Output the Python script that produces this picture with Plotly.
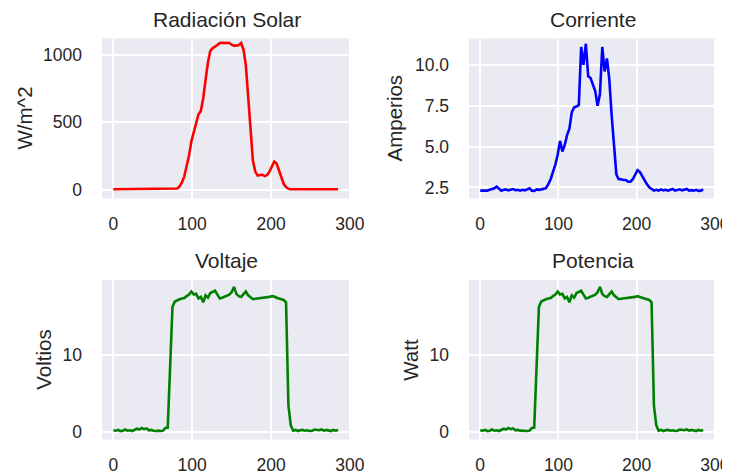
import plotly.graph_objects as go

# ---------------- data (sample index, every 3rd sample) ----------------
muestra = list(range(0, 288, 3))

radiacion = [
    5, 5, 5, 5, 5, 5, 5, 5, 5, 5, 5, 5, 5, 5, 5, 5, 5, 5, 5, 5, 5, 5, 5, 5, 5, 5, 5,
    10, 25, 55, 100, 170, 255, 360, 430, 500, 560, 585, 680, 815, 945, 1030,
    1050, 1060, 1075, 1088, 1090, 1090, 1090, 1088, 1075, 1068, 1068, 1072, 1088,
    1040, 925, 690, 420, 215, 135, 106, 110, 112, 102, 110, 135, 175, 210, 195,
    140, 85, 45, 20, 8,
    5, 5, 5, 5, 5, 5, 5, 5, 5, 5, 5, 5, 5, 5, 5, 5, 5, 5, 5, 5, 5,
]

corriente = [
    2.3, 2.3, 2.32, 2.3, 2.35, 2.38, 2.45, 2.55, 2.4, 2.3, 2.35, 2.38, 2.32, 2.35,
    2.4, 2.33, 2.35, 2.3, 2.35, 2.32, 2.4, 2.45, 2.3, 2.28, 2.38, 2.35, 2.38, 2.4, 2.45,
    2.7, 3.0, 3.45, 3.9, 4.5, 5.35, 4.7, 5.1, 5.7, 6.1, 7.1, 7.4, 7.45, 7.55, 11.1,
    10.0, 11.3, 9.3, 9.2, 8.8, 8.4, 7.5, 8.2, 11.1, 9.6, 10.4, 9.1, 6.9, 4.8, 3.3,
    3.0, 3.0, 2.95, 2.95, 2.85, 2.85, 3.0, 3.3, 3.55, 3.45, 3.15, 2.95, 2.7, 2.5, 2.4,
    2.3, 2.35, 2.3, 2.38, 2.32, 2.35, 2.3, 2.35, 2.4, 2.3, 2.35, 2.38, 2.32, 2.35,
    2.4, 2.3, 2.33, 2.3, 2.35, 2.28, 2.3, 2.38,
]

voltaje = [
    0.25, 0.2, 0.3, 0.15, 0.2, 0.35, 0.2, 0.25, 0.15, 0.3, 0.45, 0.35, 0.55, 0.4,
    0.5, 0.25, 0.3, 0.2, 0.15, 0.2, 0.15, 0.2, 0.55, 0.6,
    9.5, 16.3, 17.0, 17.2, 17.3, 17.4, 17.45, 17.7, 17.9, 18.3, 17.9, 18.0, 17.4,
    17.6, 16.9, 17.8, 17.5, 18.1, 18.2, 18.4, 17.9, 17.4, 17.5, 17.6, 17.8, 17.9,
    18.2, 18.9, 18.0, 17.7, 17.6, 17.9, 18.3, 17.8, 17.5, 17.3, 17.35, 17.4, 17.4,
    17.45, 17.5, 17.5, 17.6, 17.7, 17.65, 17.5, 17.4, 17.3, 17.2, 16.9,
    3.5, 0.9, 0.2, 0.3, 0.15, 0.25, 0.3, 0.2, 0.25, 0.15, 0.2, 0.35, 0.3, 0.25,
    0.35, 0.2, 0.3, 0.25, 0.15, 0.3, 0.2, 0.3,
]

# the "Potencia" panel shows the same curve as "Voltaje"
potencia = [
    0.25, 0.2, 0.3, 0.15, 0.2, 0.35, 0.2, 0.25, 0.15, 0.3, 0.45, 0.35, 0.55, 0.4,
    0.5, 0.25, 0.3, 0.2, 0.15, 0.2, 0.15, 0.2, 0.55, 0.6,
    9.5, 16.3, 17.0, 17.2, 17.3, 17.4, 17.45, 17.7, 17.9, 18.3, 17.9, 18.0, 17.4,
    17.6, 16.9, 17.8, 17.5, 18.1, 18.2, 18.4, 17.9, 17.4, 17.5, 17.6, 17.8, 17.9,
    18.2, 18.9, 18.0, 17.7, 17.6, 17.9, 18.3, 17.8, 17.5, 17.3, 17.35, 17.4, 17.4,
    17.45, 17.5, 17.5, 17.6, 17.7, 17.65, 17.5, 17.4, 17.3, 17.2, 16.9,
    3.5, 0.9, 0.2, 0.3, 0.15, 0.25, 0.3, 0.2, 0.25, 0.15, 0.2, 0.35, 0.3, 0.25,
    0.35, 0.2, 0.3, 0.25, 0.15, 0.3, 0.2, 0.3,
]

titulos = ["Radiación Solar", "Corriente", "Voltaje", "Potencia"]
etiquetas_y = ["W/m^2", "Amperios", "Voltios", "Watt"]
x_ticks = [0, 100, 200, 300]
y_ticks = [[0, 500, 1000], [2.5, 5.0, 7.5, 10.0], [0, 10], [0, 10]]
colores = ["red", "blue", "green", "green"]
series = [radiacion, corriente, voltaje, potencia]

# ---------------- layout ----------------
# the page body adds an 8px offset, so the figure is 8px smaller
OFF = 8
W, H = 730 - OFF, 475 - OFF
FONT = "Arial, 'Liberation Sans', sans-serif"
TXT = "#262626"


def fx(px):
    return (px - OFF) / W


def fy(py):
    return 1 - (py - OFF) / H


xL = [fx(102), fx(351)]
xR = [fx(469), fx(716)]
yT = [fy(198.5), fy(38.5)]
yB = [fy(439.5), fy(280)]
dominios = [(xL, yT), (xR, yT), (xL, yB), (xR, yB)]
y_rangos = [[-64, 1121], [1.82, 11.62], [-0.95, 19.8], [-0.95, 19.8]]
label_x_px = [24, 394, 44, 411]

fig = go.Figure()
layout = dict(
    width=W, height=H, autosize=False,
    margin=dict(l=0, r=0, t=0, b=0, pad=0, autoexpand=False),
    paper_bgcolor="white", plot_bgcolor="#EAEAF2",
    font=dict(family=FONT, color=TXT),
    showlegend=False,
    annotations=[],
)

for i in range(4):
    n = "" if i == 0 else str(i + 1)
    fig.add_trace(go.Scatter(
        x=muestra, y=series[i], mode="lines",
        line=dict(color=colores[i], width=2.6),
        xaxis="x" + n, yaxis="y" + n, hoverinfo="skip",
    ))
    xd, yd = dominios[i]
    layout["xaxis" + n] = dict(
        domain=xd, anchor="y" + n, range=[-14.35, 301.35], automargin=False,
        tickvals=x_ticks, showgrid=True, gridcolor="white", gridwidth=1.5,
        zeroline=False, showline=False, ticks="",
        ticklabelstandoff=13,
        tickfont=dict(size=17.5, color=TXT, family=FONT),
    )
    layout["yaxis" + n] = dict(
        domain=yd, anchor="x" + n, range=y_rangos[i], automargin=False,
        tickvals=y_ticks[i], tickformat=".1f" if i == 1 else "d",
        showgrid=True, gridcolor="white", gridwidth=1.5,
        zeroline=False, showline=False, ticks="",
        ticklabelstandoff=19,
        tickfont=dict(size=17.5, color=TXT, family=FONT),
    )
    layout["annotations"].append(dict(
        text=titulos[i], xref="paper", yref="paper",
        x=(xd[0] + xd[1]) / 2, y=yd[1] + 19.5 / H,
        xanchor="center", yanchor="middle", showarrow=False,
        font=dict(size=21, color=TXT, family=FONT),
    ))
    layout["annotations"].append(dict(
        text=etiquetas_y[i], xref="paper", yref="paper",
        x=fx(label_x_px[i]), y=(yd[0] + yd[1]) / 2,
        xanchor="center", yanchor="middle", textangle=-90, showarrow=False,
        font=dict(size=20.5, color=TXT, family=FONT),
    ))

fig.update_layout(**layout)
fig.write_html("out.html")
